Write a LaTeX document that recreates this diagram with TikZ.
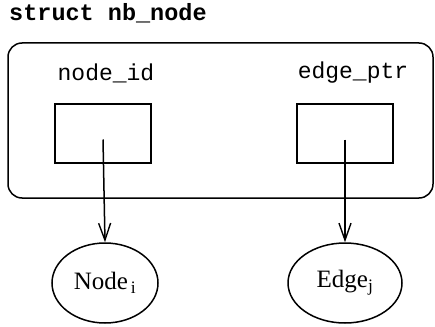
\documentclass[tikz,border=0pt]{standalone}
\usepackage{fontspec}
\setmainfont{Liberation Serif}
\newfontfamily\codefont{Liberation Mono}
\usetikzlibrary{shapes.geometric,arrows.meta}
\begin{document}
\begin{tikzpicture}[x=1pt,y=-1pt,
  frame/.style={draw,line width=1.5pt,rounded corners=14pt},
  field/.style={draw,line width=1.5pt,minimum width=96pt,minimum height=59pt,inner sep=0pt},
  label/.style={font=\codefont\fontsize{23}{26}\selectfont,inner sep=0pt},
  target/.style={draw,ellipse,line width=1.5pt,inner sep=0pt,minimum height=80pt,font=\fontsize{25}{28}\selectfont},
  ptr/.style={line width=1.5pt,-{Straight Barb[length=17pt,width=12pt,line width=1.4pt]}}]
\useasboundingbox (0,0) rectangle (435,326);

% structure title
\node[anchor=west,inner sep=0pt,font=\codefont\bfseries\fontsize{23.5}{26}\selectfont] (title) at (9,13) {struct nb\_node};

% the struct body
\draw[frame] (8,43) rectangle (433,198);

% fields
\node[label] (nid) at (106,73) {node\_id};
\node[label] (eptr) at (353,73) {edge\_ptr};
\node[field] (nbox) at (103,133.5) {};
\node[field] (ebox) at (345,133.5) {};

% pointed-to objects
\node[target,minimum width=106pt] (node) at (105,283) {Node\textsubscript{\,i}};
\node[target,minimum width=114pt] (edge) at (345,283) {Edge\textsubscript{j}};

% pointers
\coordinate (np) at ([yshift=-6pt]nbox.center);
\coordinate (ep) at ([yshift=-6pt]ebox.center);
\draw[ptr] (np) -- (node.north);
\draw[ptr] (ep) -- (edge.north);
\end{tikzpicture}
\end{document}
